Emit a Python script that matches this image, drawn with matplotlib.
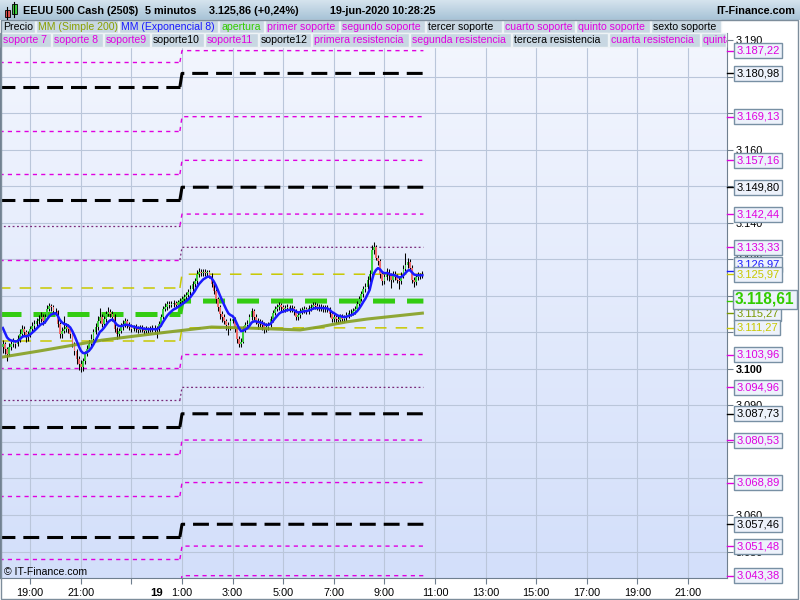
import matplotlib
matplotlib.use('Agg')
import matplotlib.pyplot as plt
import matplotlib.transforms as mtransforms
from matplotlib.patches import Rectangle
from matplotlib.transforms import Bbox, TransformedBbox
import numpy as np

plt.rcParams['font.family'] = ['Liberation Sans', 'DejaVu Sans']

W, H = 800, 600

# 5 minute bars, first bar 18-jun 17:55, open of each bar = previous close
first_open = 3106.0
closes = [
    3106.8, 3105.5, 3104.1, 3106.0, 3106.8, 3107.4, 3106.8, 3108.2, 3109.5, 3110.9,
    3110.1, 3108.7, 3109.5, 3110.9, 3111.7, 3112.3, 3113.1, 3113.6, 3114.2, 3113.1,
    3114.2, 3116.4, 3117.2, 3116.9, 3115.8, 3115.8, 3112.3, 3109.5, 3110.4, 3110.9,
    3111.5, 3110.9, 3109.5, 3106.8, 3104.9, 3102.7, 3101.4, 3100.5, 3102.2, 3104.1,
    3105.5, 3106.8, 3108.2, 3110.1, 3111.5, 3113.1, 3114.2, 3112.3, 3113.6, 3115.0,
    3115.6, 3115.0, 3114.2, 3110.9, 3109.5, 3110.4, 3111.5, 3112.3, 3113.1, 3112.0,
    3111.5, 3110.9, 3111.2, 3110.9, 3110.6, 3111.2, 3110.9, 3110.4, 3110.9, 3110.6,
    3110.9, 3111.2, 3110.6, 3110.9, 3112.3, 3114.2, 3116.4, 3116.9, 3117.7, 3117.5,
    3117.7, 3118.0, 3117.5, 3118.3, 3118.6, 3119.1, 3119.6, 3120.2, 3121.0, 3121.8,
    3123.2, 3124.0, 3125.9, 3126.5, 3126.2, 3126.7, 3126.2, 3126.5, 3125.6, 3123.2,
    3121.3, 3119.1, 3116.9, 3115.0, 3114.2, 3113.1, 3112.0, 3111.5, 3113.1, 3113.6,
    3110.9, 3108.2, 3106.8, 3107.4, 3110.9, 3112.0, 3112.3, 3114.2, 3115.8, 3114.2,
    3113.1, 3112.3, 3112.5, 3112.0, 3110.9, 3111.5, 3112.0, 3113.6, 3115.3, 3116.4,
    3116.9, 3117.5, 3116.9, 3116.4, 3116.6, 3116.9, 3116.4, 3116.6, 3115.8, 3114.2,
    3114.7, 3115.8, 3116.1, 3116.4, 3115.8, 3116.6, 3116.9, 3117.5, 3117.2, 3116.9,
    3116.6, 3116.9, 3116.4, 3116.6, 3116.4, 3115.0, 3113.6, 3114.2, 3113.6, 3113.4,
    3114.2, 3113.6, 3113.9, 3114.7, 3115.3, 3115.3, 3115.8, 3116.4, 3117.7, 3119.1,
    3120.5, 3121.8, 3122.4, 3124.5, 3125.9, 3132.7, 3133.3, 3130.5, 3129.5, 3125.9,
    3124.0, 3125.1, 3126.7, 3125.6, 3124.5, 3125.9, 3125.1, 3124.5, 3124.0, 3125.6,
    3127.3, 3128.4, 3129.2, 3127.8, 3124.5, 3123.7, 3125.1, 3125.6, 3125.4, 3125.9,
]
highs = [
    3108.0, 3107.5, 3106.0, 3107.0, 3107.8, 3108.5, 3108.0, 3109.3, 3111.0, 3112.0,
    3111.8, 3110.8, 3110.5, 3111.9, 3113.0, 3113.5, 3114.0, 3114.8, 3115.5, 3115.0,
    3115.2, 3117.5, 3118.0, 3117.9, 3117.5, 3116.8, 3116.2, 3113.0, 3111.5, 3114.5,
    3112.5, 3112.3, 3111.5, 3110.0, 3107.5, 3105.5, 3103.5, 3102.5, 3103.0, 3105.0,
    3106.5, 3108.0, 3109.5, 3111.0, 3112.5, 3114.5, 3116.8, 3115.0, 3114.5, 3116.0,
    3117.0, 3116.5, 3116.0, 3115.0, 3111.5, 3111.2, 3112.5, 3113.5, 3114.0, 3113.8,
    3112.8, 3112.2, 3112.0, 3112.2, 3111.8, 3112.0, 3112.0, 3111.6, 3111.8, 3111.6,
    3111.7, 3112.0, 3112.0, 3111.8, 3113.2, 3115.2, 3117.2, 3118.0, 3118.5, 3118.6,
    3118.5, 3118.8, 3118.7, 3119.0, 3119.5, 3120.0, 3120.5, 3121.2, 3122.0, 3123.0,
    3124.2, 3125.0, 3127.0, 3127.8, 3127.5, 3127.5, 3127.3, 3127.2, 3127.0, 3126.2,
    3124.0, 3122.0, 3119.8, 3117.5, 3115.8, 3115.0, 3113.8, 3112.8, 3114.0, 3114.5,
    3114.2, 3111.5, 3109.0, 3108.5, 3111.8, 3113.0, 3113.5, 3115.0, 3116.8, 3116.5,
    3115.0, 3114.0, 3113.8, 3113.5, 3112.8, 3112.5, 3113.0, 3114.5, 3116.2, 3117.3,
    3117.8, 3118.4, 3118.2, 3117.6, 3117.4, 3117.8, 3117.6, 3117.5, 3117.2, 3116.3,
    3115.6, 3116.7, 3117.0, 3117.3, 3117.0, 3117.5, 3117.9, 3118.4, 3118.3, 3118.0,
    3117.7, 3117.7, 3117.6, 3117.5, 3117.4, 3117.0, 3115.6, 3115.0, 3115.0, 3114.5,
    3115.0, 3115.0, 3114.8, 3115.6, 3116.2, 3116.3, 3116.8, 3117.3, 3118.6, 3120.0,
    3121.5, 3122.8, 3123.5, 3125.5, 3127.0, 3134.0, 3134.8, 3134.0, 3131.2, 3130.0,
    3126.8, 3126.0, 3127.8, 3127.5, 3126.3, 3126.8, 3126.8, 3126.0, 3125.3, 3126.5,
    3128.5, 3131.8, 3130.5, 3130.0, 3128.5, 3125.3, 3126.0, 3126.5, 3126.4, 3126.8,
]
lows = [
    3104.5, 3104.0, 3102.2, 3103.5, 3105.2, 3106.0, 3105.8, 3106.2, 3107.5, 3108.8,
    3109.2, 3107.5, 3107.8, 3108.9, 3110.2, 3111.0, 3111.5, 3112.4, 3112.8, 3112.0,
    3112.5, 3113.8, 3115.8, 3116.0, 3115.0, 3114.8, 3111.5, 3108.5, 3108.6, 3109.8,
    3110.0, 3109.8, 3108.5, 3106.0, 3103.8, 3101.5, 3099.8, 3099.2, 3099.5, 3101.5,
    3103.5, 3104.8, 3106.0, 3107.5, 3109.5, 3110.8, 3112.5, 3111.5, 3111.8, 3113.0,
    3114.5, 3114.2, 3113.2, 3110.0, 3108.2, 3108.5, 3109.8, 3110.8, 3111.5, 3111.2,
    3110.8, 3110.2, 3110.3, 3110.2, 3109.9, 3110.0, 3110.2, 3109.7, 3109.8, 3109.9,
    3110.0, 3110.2, 3109.9, 3108.5, 3110.2, 3111.8, 3113.8, 3115.8, 3116.2, 3116.8,
    3116.9, 3117.0, 3116.8, 3116.9, 3117.8, 3118.0, 3118.5, 3119.0, 3119.6, 3120.4,
    3121.2, 3122.5, 3123.4, 3125.2, 3125.5, 3125.6, 3125.5, 3125.6, 3124.8, 3122.5,
    3120.5, 3118.2, 3116.0, 3113.8, 3113.0, 3112.2, 3110.8, 3109.2, 3110.8, 3112.5,
    3110.0, 3107.0, 3106.0, 3106.1, 3107.0, 3110.2, 3111.2, 3111.8, 3113.5, 3113.5,
    3112.2, 3111.0, 3111.5, 3110.8, 3109.8, 3110.0, 3110.6, 3111.5, 3113.0, 3114.8,
    3115.8, 3116.2, 3116.0, 3115.6, 3115.7, 3115.9, 3115.5, 3115.6, 3114.9, 3113.4,
    3113.5, 3114.0, 3115.0, 3115.4, 3115.0, 3115.2, 3115.9, 3116.3, 3116.5, 3116.1,
    3115.9, 3115.9, 3115.6, 3115.7, 3115.5, 3114.2, 3112.8, 3112.8, 3112.7, 3112.6,
    3112.8, 3112.9, 3113.0, 3113.2, 3114.0, 3114.5, 3114.8, 3115.2, 3115.8, 3117.0,
    3118.5, 3119.8, 3121.0, 3121.8, 3123.8, 3125.2, 3131.5, 3129.8, 3128.5, 3124.8,
    3123.0, 3123.2, 3124.5, 3124.0, 3122.2, 3123.8, 3124.3, 3123.5, 3122.0, 3123.3,
    3125.0, 3126.8, 3127.8, 3127.0, 3123.6, 3122.5, 3123.0, 3124.5, 3124.6, 3124.9,
]

# EMA 8 value before the first bar
ema_start = 3112.5

# MM 200 read at a few bars
sma_bars = [0, 17, 47, 75, 99, 117, 141, 150, 163, 173, 199]
sma_vals = [3103.3, 3104.9, 3107.9, 3109.9, 3111.5, 3111.2, 3110.7, 3111.5, 3112.9, 3113.7, 3115.3]

open_bar = 85  # 19-jun 1:00

# levels: value on the 18th, value on the 19th, style left, style right
lvl_prev = [3184.1, 3177.3, 3165.2, 3153.4, 3146.3, 3139.2, 3129.9, 3122.2, 3115.1,
            3107.7, 3100.3, 3091.5, 3084.1, 3076.7, 3065.2, 3054.0, 3047.9, 3039.9]
lvl_today = [3187.22, 3180.98, 3169.13, 3157.16, 3149.80, 3142.44, 3133.33, 3125.97, 3118.61,
             3111.27, 3103.96, 3094.96, 3087.73, 3080.53, 3068.89, 3057.46, 3051.48, 3043.38]
lvl_style_prev = ['mag', 'blk', 'mag', 'mag', 'blk', 'dot', 'mag', 'yel', 'grn',
                  'yel', 'mag', 'dot', 'blk', 'mag', 'mag', 'blk', 'mag', 'mag']
lvl_style_today = ['mag', 'blk', 'mag', 'mag', 'blk', 'mag', 'dot', 'yel', 'grn',
                   'yel', 'mag', 'dot', 'blk', 'mag', 'mag', 'blk', 'mag', 'mag']

# right hand value boxes
label_vals = [3187.22, 3180.98, 3169.13, 3157.16, 3149.80, 3142.44, 3133.33, 3126.97, 3125.97,
              3115.27, 3111.27, 3103.96, 3094.96, 3087.73, 3080.53, 3068.89, 3057.46, 3051.48, 3043.38]
label_cols = ['#e000e0', 'black', '#e000e0', '#e000e0', 'black', '#e000e0', '#e000e0', '#1a1aff', '#c8c800',
              '#7a9a00', '#c8c800', '#e000e0', '#e000e0', 'black', '#e000e0', '#e000e0', 'black', '#e000e0', '#e000e0']
label_shift = [0, 0, 0, 0, 0, 0, 0, 1.6, 0, 0, 0, 0, 0, 0, 0, 0, 0, 0, 0]
apertura = 3118.61

time_ticks = [13, 37, 61, 85, 109, 133, 157, 181, 205, 229, 253, 277, 301, 325]
time_labels = ['19:00', '21:00', '', '1:00', '3:00', '5:00', '7:00', '9:00', '11:00',
               '13:00', '15:00', '17:00', '19:00', '21:00']
day_bar = 73
day_label = '19'
yticks = list(range(3050, 3191, 10))
yticks_shown = [3050, 3060, 3090, 3100, 3130, 3140, 3160, 3190]

legend_row1 = ['Precio', 'MM (Simple 200)', 'MM (Exponencial 8)', 'apertura', 'primer soporte',
               'segundo soporte', 'tercer soporte', 'cuarto soporte', 'quinto soporte', 'sexto soporte']
legend_row1_cols = ['black', '#8aa000', '#1a1aff', '#33cc00', '#e000e0', '#e000e0', 'black',
                    '#e000e0', '#e000e0', 'black']
legend_row1_x = [1, 36, 119, 219, 265, 340, 426, 503, 576, 651, 722]
legend_row2 = ['soporte 7', 'soporte 8', 'soporte9', 'soporte10', 'soporte11', 'soporte12',
               'primera resistencia', 'segunda resistencia', 'tercera resistencia',
               'cuarta resistencia', 'quinta resistencia']
legend_row2_cols = ['#e000e0', '#e000e0', '#e000e0', 'black', '#e000e0', 'black', '#e000e0',
                    '#e000e0', 'black', '#e000e0', '#e000e0']
legend_row2_x = [1, 52, 104, 151, 205, 259, 312, 410, 512, 609, 701, 800]

styles = {
    'mag': dict(color='#e000e0', lw=1.0, ls=(0, (3, 3))),
    'dot': dict(color='#7a2a7a', lw=0.9, ls=(0, (1.5, 2))),
    'blk': dict(color='black', lw=2.2, ls=(0, (5.2, 2.6))),
    'yel': dict(color='#c8c800', lw=1.1, ls=(0, (7.5, 6))),
    'grn': dict(color='#33cc11', lw=3.6, ls=(0, (4.4, 2.4))),
}


def fmt_eu(v, dec):
    s = f"{v:,.{dec}f}"
    return s.replace(',', '#').replace('.', ',').replace('#', '.')


fig = plt.figure(figsize=(8, 6), dpi=100)

# plot area in pixels: x 0..727, y 33..578
ax_rect = [0, 1 - 578 / H, 727 / W, 545 / H]
bg = fig.add_axes(ax_rect, zorder=-1)
grad = np.linspace(0, 1, 256).reshape(-1, 1)
bg.imshow(grad, aspect='auto', extent=[0, 1, 0, 1],
          cmap=matplotlib.colors.LinearSegmentedColormap.from_list('bg', ['#f3f6fe', '#d3dffa']))
bg.axis('off')

ax = fig.add_axes(ax_rect)
ax.set_facecolor('none')
ax.set_axisbelow(True)

x = np.arange(len(closes))
opens = [first_open] + closes[:-1]

# levels
for lp, lt, sp, st in zip(lvl_prev, lvl_today, lvl_style_prev, lvl_style_today):
    ax.plot([-3, open_bar - 1], [lp, lp], zorder=2, **styles[sp])
    ax.plot([open_bar - 1, open_bar, len(closes) - 0.5], [lp, lt, lt], zorder=2, **styles[st])

# candles
up = np.array(closes) >= np.array(opens)
ax.vlines(x, lows, highs, color='black', lw=0.75, zorder=3)
body = np.array(closes) - np.array(opens)
ax.bar(x, body, bottom=opens, width=0.8, color=np.where(up, '#3ccf3c', '#ee6c6c'),
       edgecolor='none', zorder=3.5)

# moving averages
ema = []
prev = ema_start
for c in closes:
    prev = prev + 2 / 9 * (c - prev)
    ema.append(prev)
ax.plot(sma_bars, sma_vals, color='#86a020', lw=2.2, alpha=0.9, zorder=4)
ax.plot(x, ema, color='#1a1aff', lw=1.8, zorder=5)

ax.set_xlim(-1.33, 343.5)
ax.set_ylim(3042.74, 3192.05)

ax.set_xticks(time_ticks, time_labels)
ax.set_yticks(yticks, [fmt_eu(v, 0) if v in yticks_shown else '' for v in yticks])
ax.yaxis.tick_right()
for lbl in ax.get_yticklabels():
    if lbl.get_text() == '3.100':
        lbl.set_fontweight('bold')
ax.tick_params(axis='x', length=4, pad=3, labelsize=7.8, color='#6f7f8f')
ax.tick_params(axis='y', length=4, pad=2, labelsize=7.8, color='#6f7f8f')
ax.grid(True, color='#bac6da', lw=0.8)
for s in ['left', 'bottom', 'right']:
    ax.spines[s].set_color('#6f7f8f')
ax.spines['top'].set_visible(False)

ax.text(day_bar, -0.027, day_label, transform=ax.get_xaxis_transform(), ha='center', va='center',
        fontsize=8.2, fontweight='bold')
ax.text(0.005, 0.002, '\u00a9 IT-Finance.com', transform=ax.transAxes, fontsize=7.6, va='bottom')

# value boxes on the right axis
tr = mtransforms.blended_transform_factory(ax.transAxes, ax.transData)
for v, col, sh in zip(label_vals, label_cols, label_shift):
    ax.plot([1.0, 1.009], [v, v], transform=tr, color=col, lw=1, clip_on=False, zorder=6)
    ax.text(1.0125, v + sh, fmt_eu(v, 2), transform=tr, color=col, fontsize=8, va='center', ha='left',
            zorder=7, clip_on=False,
            bbox=dict(boxstyle='square,pad=0.22', fc='#edf2fb', ec='#7890a4', lw=1))
ax.plot([1.0, 1.009], [apertura, apertura], transform=tr, color='#33cc00', lw=1, clip_on=False, zorder=6)
ax.text(1.011, apertura + 0.5, fmt_eu(apertura, 2), transform=tr, color='#33cc00', fontsize=11.2,
        fontweight='bold', va='center', ha='left', zorder=8, clip_on=False,
        bbox=dict(boxstyle='square,pad=0.14', fc='#edf2fb', ec='#7890a4', lw=1))


# header bar
def fig_box(x0, y0, x1, y1, fc, ec, lw=1):
    fig.add_artist(Rectangle((x0 / W, 1 - y1 / H), (x1 - x0) / W, (y1 - y0) / H,
                             transform=fig.transFigure, fc=fc, ec=ec, lw=lw))


hdr = fig.add_axes([0, 1 - 20 / H, 1, 20 / H])
hdr.imshow(grad, aspect='auto', extent=[0, 1, 0, 1],
           cmap=matplotlib.colors.LinearSegmentedColormap.from_list('hd', ['#d6e4ee', '#a6c2d6']))
hdr.axis('off')

# little candle icon
fig.add_artist(plt.Line2D([7 / W, 7 / W], [1 - 19 / H, 1 - 7 / H], color='black', lw=0.8))
fig_box(4.5, 10, 9.5, 17, '#e05050', 'black', 0.6)
fig.add_artist(plt.Line2D([14 / W, 14 / W], [1 - 17 / H, 1 - 2 / H], color='black', lw=0.8))
fig_box(11.5, 4, 16.5, 14, '#3fcf3f', 'black', 0.6)

hy = 1 - 11 / H
fig.text(23 / W, hy, 'EEUU 500 Cash (250$)', fontsize=7.8, fontweight='bold', va='center')
fig.text(145 / W, hy, '5 minutos', fontsize=7.8, fontweight='bold', va='center')
fig.text(209 / W, hy, '3.125,86 (+0,24%)', fontsize=7.8, fontweight='bold', va='center')
fig.text(330 / W, hy, '19-jun-2020 10:28:25', fontsize=7.8, fontweight='bold', va='center')
fig.text(795 / W, hy, 'IT-Finance.com', fontsize=7.8, fontweight='bold', va='center', ha='right')

# legend tabs
clip = TransformedBbox(Bbox([[0, 0], [727 / W, 1]]), fig.transFigure)
for names, cols, xs, y0, y1 in [(legend_row1, legend_row1_cols, legend_row1_x, 20, 33),
                                (legend_row2, legend_row2_cols, legend_row2_x, 33, 47)]:
    for i, name in enumerate(names):
        x0, x1 = xs[i], min(xs[i + 1], 727)
        fig_box(x0, y0, x1 - 1, y1, '#c8d7e2', '#eef3f6')
        t = fig.text((x0 + 2) / W, 1 - (y0 + y1) / 2 / H, name, color=cols[i], fontsize=7.6,
                     va='center', clip_on=True)
        t.set_clip_box(clip)

# outer frame
fig_box(0.5, 20, 797.5, 598.5, 'none', '#7d8d9b')

fig.savefig('out.png', dpi=100, facecolor='white')
